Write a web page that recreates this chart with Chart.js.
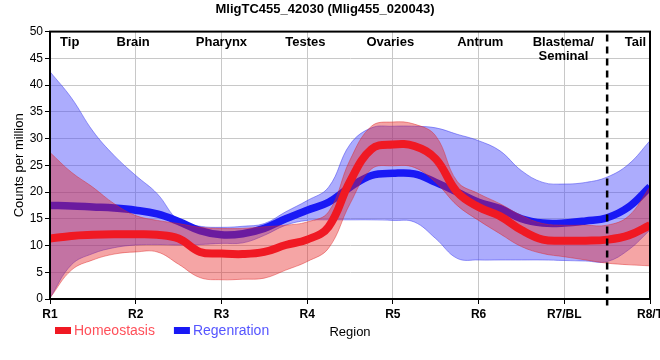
<!DOCTYPE html>
<html>
<head>
<meta charset="utf-8">
<script src="https://cdn.jsdelivr.net/npm/chart.js@4/dist/chart.umd.min.js"></script>
<style>
  html, body { margin: 0; padding: 0; overflow: hidden; background: #fff; }
  #wrap { width: 676px; height: 360px; }
</style>
</head>
<body>
<div id="wrap"><canvas id="chart"></canvas></div>
<script>
// sample positions along the body axis (R1 = 1 ... R8 = 8)
const xs = [1, 1.25, 1.5, 1.75, 2, 2.25, 2.5, 2.75, 3, 3.25, 3.5, 3.75, 4, 4.25, 4.5,
            4.75, 5, 5.25, 5.5, 5.75, 6, 6.25, 6.5, 6.75, 7, 7.25, 7.5, 7.75, 8];

// Homeostasis: smoothed mean and band
const homMean = [11.3, 11.8, 12.0, 12.1, 12.1, 12.0, 11.3, 8.8, 8.5, 8.4, 8.8, 10.1, 11.1, 13.5, 22.0,
                 28.0, 28.9, 28.6, 26.2, 20.0, 17.2, 15.5, 12.9, 11.1, 10.9, 10.9, 11.1, 11.9, 13.8];
const homHi   = [27.4, 23.7, 20.9, 17.8, 15.6, 14.7, 14.1, 13.4, 13.2, 13.2, 13.5, 13.8, 14.4, 16.3, 26.0,
                 32.3, 33.1, 32.7, 30.5, 22.0, 19.7, 17.8, 15.6, 14.1, 13.8, 13.8, 13.8, 15.5, 21.0];
const homLo   = [0.2, 5.4, 7.3, 8.4, 8.8, 8.8, 6.5, 4.0, 3.6, 3.7, 3.9, 5.4, 7.0, 9.5, 17.8,
                 24.3, 24.9, 24.6, 21.8, 17.5, 14.7, 12.2, 9.8, 8.5, 7.9, 7.3, 6.7, 6.4, 6.2];

// Regeneration: smoothed mean and band
const regMean = [17.5, 17.4, 17.2, 17.0, 16.6, 15.9, 14.5, 12.8, 12.0, 12.2, 13.2, 15.0, 16.6, 18.1, 20.9,
                 23.1, 23.5, 23.4, 21.8, 20.0, 18.1, 16.9, 15.0, 14.2, 14.2, 14.6, 15.2, 17.2, 21.0];
const regHi   = [42.5, 37.6, 31.4, 26.8, 23.1, 19.7, 14.7, 13.6, 13.4, 13.6, 14.1, 16.3, 18.4, 20.9, 28.9,
                 32.0, 32.3, 32.3, 32.0, 30.8, 29.6, 27.7, 24.0, 21.8, 21.5, 21.8, 22.8, 25.2, 29.6];
const regLo   = [0.2, 6.4, 8.5, 9.6, 10.1, 10.2, 10.1, 10.2, 10.4, 10.5, 11.9, 13.8, 14.7, 14.8, 14.8,
                 14.8, 14.7, 14.4, 11.3, 7.6, 7.3, 7.3, 7.3, 7.3, 7.2, 7.1, 7.0, 9.2, 12.9];

// axis ticks and region annotations
const tickLabels = ['R1', 'R2', 'R3', 'R4', 'R5', 'R6', 'R7/BL', 'R8/T'];
const regionNames = ['Tip', 'Brain', 'Pharynx', 'Testes', 'Ovaries', 'Antrum', 'Blastema/\nSeminal', 'Tail'];
const regionPos = [1.23, 1.97, 3.0, 3.98, 4.97, 6.02, 6.99, 7.83];
const tailBoundary = [7.5, 7.5];
const tailBoundaryY = [-1.2, 50];

const FONT = "'Liberation Sans', Arial, sans-serif";
const RED = 'rgb(240, 25, 35)';
const BLUE = 'rgb(25, 25, 245)';

const pts = arr => arr.map((v, i) => ({ x: xs[i], y: v }));

// extra drawing: plot frame, region names, legend and x title
const extras = {
    id: 'extras',
    afterDraw(chart) {
        const { ctx, chartArea: a, scales } = chart;
        ctx.save();
        ctx.strokeStyle = '#000';
        ctx.lineWidth = 2;
        ctx.strokeRect(a.left, a.top, a.right - a.left, a.bottom - a.top);

        ctx.fillStyle = '#000';
        ctx.font = 'bold 13px ' + FONT;
        ctx.textAlign = 'center';
        ctx.textBaseline = 'middle';
        regionNames.forEach((name, i) => {
            const x = scales.x.getPixelForValue(regionPos[i]);
            name.split('\n').forEach((line, j) => ctx.fillText(line, x, a.top + 11 + j * 14));
        });

        // legend
        ctx.font = '14px ' + FONT;
        ctx.textAlign = 'left';
        let lx = 55;
        const ly = 331;
        [['Homeostasis', RED, 'rgb(255, 80, 90)'], ['Regenration', BLUE, 'rgb(85, 85, 255)']].forEach(([t, c, tc]) => {
            ctx.fillStyle = c;
            ctx.fillRect(lx, ly - 4, 16, 7);
            ctx.fillStyle = tc;
            ctx.fillText(t, lx + 19, ly);
            lx += 19 + ctx.measureText(t).width + 19;
        });

        ctx.fillStyle = '#000';
        ctx.font = '13px ' + FONT;
        ctx.textAlign = 'center';
        ctx.fillText('Region', (a.left + a.right) / 2, ly + 1);
        ctx.restore();
    }
};

new Chart(document.getElementById('chart'), {
    type: 'line',
    data: {
        datasets: [
            { label: 'Homeostasis', data: pts(homMean), borderColor: RED, borderWidth: 8, order: 0 },
            { label: 'homHi', data: pts(homHi), borderColor: 'rgba(220, 40, 40, 0.45)', borderWidth: 1,
              backgroundColor: 'rgba(230, 30, 30, 0.4)', fill: 2, order: 1 },
            { label: 'homLo', data: pts(homLo), borderColor: 'rgba(220, 40, 40, 0.45)', borderWidth: 1, order: 1 },
            { label: 'Regenration', data: pts(regMean), borderColor: BLUE, borderWidth: 7.5, order: 2 },
            { label: 'regHi', data: pts(regHi), borderColor: 'rgba(60, 60, 240, 0.5)', borderWidth: 1,
              backgroundColor: 'rgba(70, 70, 250, 0.45)', fill: 5, order: 3 },
            { label: 'regLo', data: pts(regLo), borderColor: 'rgba(60, 60, 240, 0.5)', borderWidth: 1, order: 3 },
            { label: 'boundary', data: tailBoundary.map((x, i) => ({ x: x, y: tailBoundaryY[i] })),
              borderColor: '#000', borderWidth: 2.5, borderDash: [7, 5], order: -1, clip: false, tension: 0 }
        ]
    },
    options: {
        responsive: true,
        maintainAspectRatio: false,
        animation: false,
        layout: { padding: { right: 26 } },
        elements: {
            point: { radius: 0 },
            line: { tension: 0.4 }
        },
        plugins: {
            legend: { display: false },
            tooltip: { enabled: false },
            title: {
                display: true,
                text: 'MligTC455_42030 (Mlig455_020043)',
                color: '#000',
                font: { family: FONT, size: 13, weight: 'bold' },
                padding: { top: 2, bottom: 14 }
            }
        },
        scales: {
            x: {
                type: 'linear',
                min: 1,
                max: 8,
                afterFit: s => { s.height = 61; },
                grid: { color: '#c8c8c8', tickColor: '#000', tickLength: 5 },
                border: { color: '#000', width: 2 },
                ticks: {
                    stepSize: 1,
                    padding: 3,
                    color: '#000',
                    font: { family: FONT, size: 12, weight: 'bold' },
                    callback: v => tickLabels[v - 1]
                }
            },
            y: {
                min: 0,
                max: 50,
                afterFit: s => { s.width = 50; },
                grid: { color: '#c8c8c8', tickColor: '#000', tickLength: 5 },
                border: { color: '#000', width: 2 },
                ticks: { stepSize: 5, padding: 2, color: '#000', font: { family: FONT, size: 12 } },
                title: {
                    display: true,
                    text: 'Counts per million',
                    color: '#000',
                    font: { family: FONT, size: 13 },
                    padding: { top: 12, bottom: 0 }
                }
            }
        }
    },
    plugins: [extras]
});
</script>
</body>
</html>
